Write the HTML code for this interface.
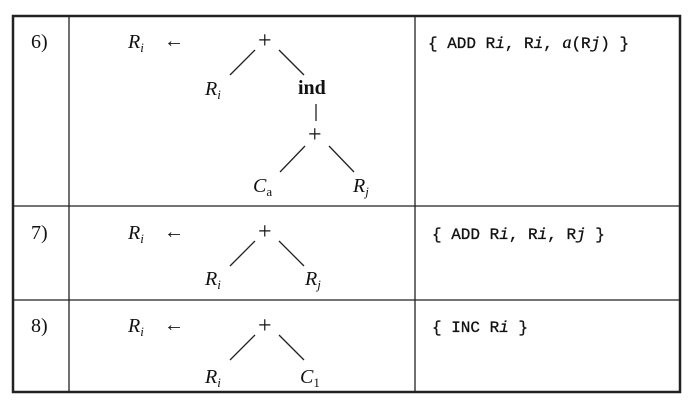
<!DOCTYPE html>
<html><head><meta charset="utf-8"><style>
html,body{margin:0;padding:0;background:#fff;width:694px;height:405px;overflow:hidden}
svg{display:block}
.s{font-family:"Liberation Serif",serif;font-size:20px;fill:#111}
.i{font-style:italic}
.p{font-family:"Liberation Serif",serif;font-size:24px;fill:#111}
.m{font-family:"Liberation Mono",monospace;font-size:16px;fill:#111;stroke:#111;stroke-width:0.3}
.ln{stroke:#222;stroke-width:1.3;fill:none}
</style></head><body>
<svg width="694" height="405" viewBox="0 0 694 405">
<rect x="13" y="16" width="667" height="376" fill="none" stroke="#222" stroke-width="2.5"/>
<line class="ln" x1="69" y1="16" x2="69" y2="392"/>
<line class="ln" x1="415" y1="16" x2="415" y2="392"/>
<line class="ln" x1="13" y1="206" x2="680" y2="206"/>
<line class="ln" x1="13" y1="300" x2="680" y2="300"/>

<g>
<text class="s" x="31" y="48">6)</text>
<text class="s i" x="128" y="48">R<tspan font-size="13" dy="4">i</tspan></text>
<text class="s" x="164" y="47">←</text>
<text class="p" x="258" y="48">+</text>
<line class="ln" x1="255" y1="50" x2="230" y2="75"/><line class="ln" x1="279" y1="50" x2="304" y2="75"/>
<text class="s i" x="205" y="95">R<tspan font-size="13" dy="4">i</tspan></text>
<text class="s" x="298" y="94" font-weight="bold">ind</text>
<line class="ln" x1="316" y1="104" x2="316" y2="121"/>
<text class="p" x="308" y="142">+</text>
<line class="ln" x1="305" y1="146" x2="280" y2="172"/><line class="ln" x1="329" y1="146" x2="354" y2="172"/>
<text class="s i" x="253" y="192">C<tspan font-size="13" dy="4" font-style="normal">a</tspan></text>
<text class="s i" x="353" y="192">R<tspan font-size="13" dy="4">j</tspan></text>
<text class="m" x="428" y="48">{ ADD R<tspan font-style="italic">i</tspan>, R<tspan font-style="italic">i</tspan>, <tspan font-family="Liberation Serif" font-style="italic" font-size="18">a</tspan>(R<tspan font-style="italic">j</tspan>) }</text>
</g>

<g>
<text class="s" x="31" y="239">7)</text>
<text class="s i" x="128" y="239">R<tspan font-size="13" dy="4">i</tspan></text>
<text class="s" x="164" y="238">←</text>
<text class="p" x="258" y="239">+</text>
<line class="ln" x1="255" y1="241" x2="230" y2="266"/><line class="ln" x1="279" y1="241" x2="304" y2="266"/>
<text class="s i" x="205" y="285">R<tspan font-size="13" dy="4">i</tspan></text>
<text class="s i" x="305" y="285">R<tspan font-size="13" dy="4">j</tspan></text>
<text class="m" x="432" y="239">{ ADD R<tspan font-style="italic">i</tspan>, R<tspan font-style="italic">i</tspan>, R<tspan font-style="italic">j</tspan> }</text>
</g>

<g>
<text class="s" x="31" y="332">8)</text>
<text class="s i" x="128" y="332">R<tspan font-size="13" dy="4">i</tspan></text>
<text class="s" x="164" y="331">←</text>
<text class="p" x="258" y="333">+</text>
<line class="ln" x1="255" y1="335" x2="230" y2="360"/><line class="ln" x1="279" y1="335" x2="304" y2="360"/>
<text class="s i" x="205" y="383">R<tspan font-size="13" dy="4">i</tspan></text>
<text class="s i" x="300" y="383">C<tspan font-size="13" dy="4" font-style="normal">1</tspan></text>
<text class="m" x="432" y="332">{ INC R<tspan font-style="italic">i</tspan> }</text>
</g>
</svg>
</body></html>
